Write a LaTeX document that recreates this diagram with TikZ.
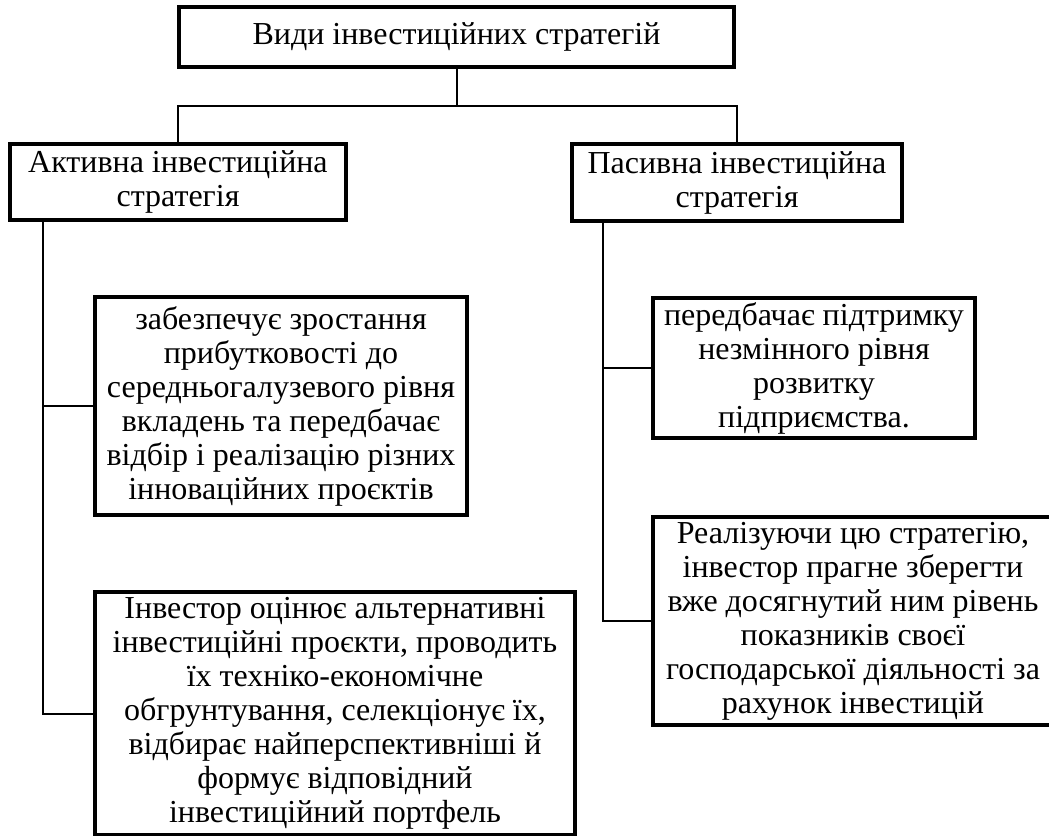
\documentclass[tikz,border=0pt]{standalone}
\usepackage{fontspec}
\setmainfont{Liberation Serif}
\usetikzlibrary{calc}
\begin{document}
\begin{tikzpicture}[x=1bp,y=-1bp,
  box/.style={draw=black,line width=3.5bp,align=center,inner sep=0pt,
    font=\fontsize{32bp}{34bp}\selectfont},
  link/.style={draw=black,line width=2bp}]
% canvas
\fill[white] (0,0) rectangle (1049,836);
\useasboundingbox (0,0) rectangle (1049,836);

% top level
\node[box,minimum width=555bp,minimum height=60bp] (top) at (456.5,37) {Види інвестиційних стратегій};

% two strategies
\node[box,minimum width=336bp,minimum height=76bp] (L) at (178,182) {Активна інвестиційна\\стратегія};
\node[box,minimum width=330bp,minimum height=77bp] (R) at (737,182.5) {Пасивна інвестиційна\\стратегія};

% active strategy details
\node[box,minimum width=372bp,minimum height=218bp] (A1) at (281,406) {забезпечує зростання\\прибутковості до\\середньогалузевого рівня\\вкладень та передбачає\\відбір і реалізацію різних\\інноваційних проєктів};
\node[box,minimum width=480bp,minimum height=243bp] (A2) at (335,713.5) {Інвестор оцінює альтернативні\\інвестиційні проєкти, проводить\\їх техніко-економічне\\обгрунтування, селекціонує їх,\\відбирає найперспективніші й\\формує відповідний\\інвестиційний портфель};

% passive strategy details
\node[box,minimum width=322bp,minimum height=140bp] (B1) at (814,368) {передбачає підтримку\\незмінного рівня\\розвитку\\підприємства.};
\node[box,minimum width=400bp,minimum height=208bp] (B2) at (853,621) {Реалізуючи цю стратегію,\\інвестор прагне зберегти\\вже досягнутий ним рівень\\показників своєї\\господарської діяльності за\\рахунок інвестицій};

% connectors
\coordinate (j) at (456.5,106);
\draw[link] (top.south) -- (j);
\draw[link] (L.north) |- (j) -| (R.north);

\coordinate (Ltap) at ($(L.south west)+(35,0)$);
\coordinate (Rtap) at ($(R.south west)+(33,0)$);
\draw[link] (Ltap) |- (A1.west);
\draw[link] (Ltap) |- (A2.west);
\draw[link] (Rtap) |- (B1.west);
\draw[link] (Rtap) |- (B2.west);
\end{tikzpicture}
\end{document}
